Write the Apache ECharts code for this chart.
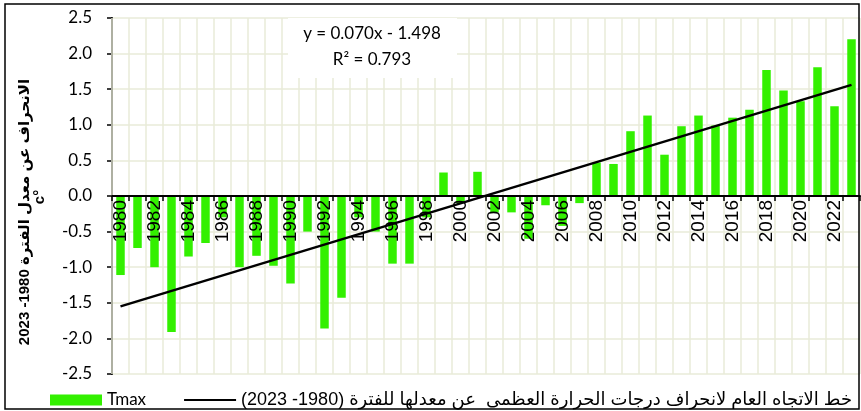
<!DOCTYPE html>
<html>
<head>
<meta charset="utf-8">
<script src="https://cdn.jsdelivr.net/npm/echarts@6/dist/echarts.min.js"></script>
<style>
  html, body { margin: 0; padding: 0; background: #fff; }
  #chart { width: 861px; height: 411px; }
</style>
</head>
<body>
<div id="chart"></div>
<script>
// ---- data ----
const years = ['1980','1981','1982','1983','1984','1985','1986','1987','1988','1989',
  '1990','1991','1992','1993','1994','1995','1996','1997','1998','1999',
  '2000','2001','2002','2003','2004','2005','2006','2007','2008','2009',
  '2010','2011','2012','2013','2014','2015','2016','2017','2018','2019',
  '2020','2021','2022','2023'];
const tmax = [-1.11,-0.73,-1.00,-1.91,-0.85,-0.66,-0.30,-1.00,-0.84,-0.98,
  -1.23,-0.50,-1.86,-1.43,-0.30,-0.50,-0.95,-0.95,-0.30,0.33,
  -0.10,0.34,-0.23,-0.23,-0.60,-0.13,-0.42,-0.10,0.47,0.45,
  0.91,1.13,0.58,0.98,1.13,0.99,1.10,1.21,1.77,1.48,
  1.33,1.81,1.26,2.20];
const trendEnds = [-1.55, 1.56];   // trend line at first and last year
const yTicks = { min: -2.5, max: 2.5, step: 0.5 };
const eqLine1 = 'y = 0.070x - 1.498';
const eqLine2 = 'R\u00B2 = 0.793';
const barName = 'Tmax';
const RLI = '\u2067', PDI = '\u2069';
const trendName = RLI + 'خط الاتجاه العام لانحراف درجات الحرارة العظمى  عن معدلها للفترة (1980- 2023)' + PDI;
const yTitle = RLI + 'الانحراف عن معدل الفترة 1980- 2023' + PDI;
const yUnit = 'c\u00B0';

// trend series: only the two end values, straight line between them
const trendData = years.map((y, i) => i === 0 ? trendEnds[0] : (i === years.length - 1 ? trendEnds[1] : '-'));

const gridColor = '#e8ebd8';
const titleFont = "bold 15px 'Liberation Sans', 'DejaVu Sans', sans-serif";
const chart = echarts.init(document.getElementById('chart'));
chart.setOption({
  animation: false,
  backgroundColor: '#fff',
  grid: { left: 112, right: 1, top: 18, bottom: 37, containLabel: false, outerBoundsMode: 'none' },
  legend: {
    left: 45, top: 386,
    itemWidth: 52, itemHeight: 11, itemGap: 37,
    data: [
      { name: barName, icon: 'rect', textStyle: { fontFamily: 'Lato, sans-serif', fontSize: 17 } },
      { name: trendName, itemStyle: { color: 'rgba(0,0,0,0)', borderWidth: 0 },
        textStyle: { fontFamily: "'Liberation Sans', 'DejaVu Sans', sans-serif", fontSize: 18 } }
    ],
    textStyle: { color: '#000' }
  },
  xAxis: {
    type: 'category',
    data: years,
    position: 'bottom',
    offset: 0,
    z: 4,
    axisLine: { onZero: false, lineStyle: { color: '#000', width: 2 } },
    axisTick: { show: true, interval: 0, length: 5, lineStyle: { color: '#000', width: 1.5 } },
    axisLabel: { interval: 1, rotate: 90, margin: 4, color: '#000', fontSize: 19, fontFamily: "'Liberation Sans', sans-serif" },
    splitLine: { show: true, interval: 0, lineStyle: { color: gridColor, width: 1.5 } }
  },
  yAxis: {
    type: 'value',
    min: yTicks.min, max: yTicks.max, interval: yTicks.step,
    axisLine: { show: true, lineStyle: { color: '#000', width: 2 } },
    axisTick: { show: true, length: 5, lineStyle: { color: '#000', width: 1.5 } },
    axisLabel: { margin: 20, color: '#000', fontSize: 17, fontFamily: 'Lato, sans-serif', formatter: v => v.toFixed(1) },
    splitLine: { show: true, lineStyle: { color: gridColor, width: 1.5 } }
  },
  series: [
    {
      name: barName, type: 'bar', data: tmax, barWidth: 8.5,
      itemStyle: { color: '#33f000' }
    },
    {
      name: trendName, type: 'line', data: trendData, connectNulls: true,
      symbol: 'none', itemStyle: { color: '#000' }, lineStyle: { color: '#000', width: 2.5 }, z: 5
    }
  ],
  graphic: [
    { type: 'rect', shape: { x: 288, y: 18, width: 169, height: 60 }, style: { fill: '#fff' }, z: 10 },
    { type: 'text', x: 372, y: 34, z: 11, style: { text: eqLine1, fill: '#000', font: '17px Lato, sans-serif', textAlign: 'center', textVerticalAlign: 'middle' } },
    { type: 'text', x: 372, y: 60, z: 11, style: { text: eqLine2, fill: '#000', font: '17px Lato, sans-serif', textAlign: 'center', textVerticalAlign: 'middle' } },
    { type: 'text', x: 25, y: 212, rotation: Math.PI / 2, z: 11, style: { text: yTitle, fill: '#000', font: titleFont, textAlign: 'center', textVerticalAlign: 'middle' } },
    { type: 'text', x: 40, y: 197, rotation: Math.PI / 2, z: 11, style: { text: yUnit, fill: '#000', font: titleFont, textAlign: 'center', textVerticalAlign: 'middle' } },
    { type: 'rect', shape: { x: 5, y: 4, width: 854, height: 405 }, style: { fill: null, stroke: '#000', lineWidth: 1.5 }, z: 20 }
  ]
});
// place the category axis on the zero line of the value axis (via the library's scale)
const zeroY = chart.convertToPixel({ yAxisIndex: 0 }, 0);
const bottomY = chart.convertToPixel({ yAxisIndex: 0 }, yTicks.min);
chart.setOption({ xAxis: { offset: zeroY - bottomY } });
</script>
</body>
</html>
